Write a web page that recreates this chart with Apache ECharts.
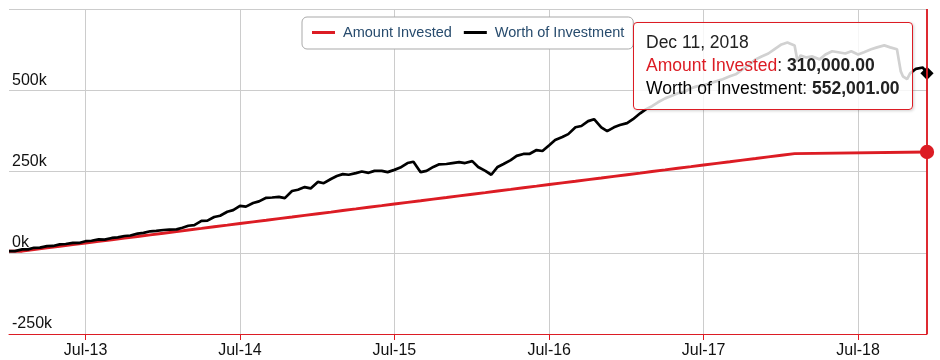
<!DOCTYPE html>
<html><head><meta charset="utf-8">
<script src="https://cdn.jsdelivr.net/npm/echarts@6/dist/echarts.min.js"></script>
<style>html,body{margin:0;padding:0;background:#fff}#c{width:940px;height:360px}</style>
</head><body><div id="c"></div>
<script>
const investedDates = [
'2013-01-01','2013-02-01','2013-03-01','2013-04-01','2013-05-01','2013-06-01','2013-07-01','2013-08-01','2013-09-01','2013-10-01','2013-11-01','2013-12-01',
'2014-01-01','2014-02-01','2014-03-01','2014-04-01','2014-05-01','2014-06-01','2014-07-01','2014-08-01','2014-09-01','2014-10-01','2014-11-01','2014-12-01',
'2015-01-01','2015-02-01','2015-03-01','2015-04-01','2015-05-01','2015-06-01','2015-07-01','2015-08-01','2015-09-01','2015-10-01','2015-11-01','2015-12-01',
'2016-01-01','2016-02-01','2016-03-01','2016-04-01','2016-05-01','2016-06-01','2016-07-01','2016-08-01','2016-09-01','2016-10-01','2016-11-01','2016-12-01',
'2017-01-01','2017-02-01','2017-03-01','2017-04-01','2017-05-01','2017-06-01','2017-07-01','2017-08-01','2017-09-01','2017-10-01','2017-11-01','2017-12-01',
'2018-01-01','2018-02-01','2018-12-11'];
const investedValues = [
5000,10000,15000,20000,25000,30000,35000,40000,45000,50000,55000,60000,
65000,70000,75000,80000,85000,90000,95000,100000,105000,110000,115000,120000,
125000,130000,135000,140000,145000,150000,155000,160000,165000,170000,175000,180000,
185000,190000,195000,200000,205000,210000,215000,220000,225000,230000,235000,240000,
245000,250000,255000,260000,265000,270000,275000,280000,285000,290000,295000,300000,
305000,310000,310000];

const worthDates = [
'2013-01-01','2013-01-15','2013-02-01','2013-02-15','2013-03-01','2013-03-15','2013-04-01','2013-04-15','2013-05-01','2013-05-15','2013-06-01','2013-06-15',
'2013-07-01','2013-07-15','2013-08-01','2013-08-15','2013-09-01','2013-09-15','2013-10-01','2013-10-15','2013-11-01','2013-11-15','2013-12-01','2013-12-15',
'2014-01-01','2014-01-15','2014-02-01','2014-02-15','2014-03-01','2014-03-15','2014-04-01','2014-04-15','2014-05-01','2014-05-15','2014-06-01','2014-06-15',
'2014-07-01','2014-07-15','2014-08-01','2014-08-15','2014-09-01','2014-09-15','2014-10-01','2014-10-15','2014-11-01','2014-11-15','2014-12-01','2014-12-15',
'2015-01-01','2015-01-15','2015-02-01','2015-02-15','2015-03-01','2015-03-15','2015-04-01','2015-04-15','2015-05-01','2015-05-15','2015-06-01','2015-06-15',
'2015-07-01','2015-07-15','2015-08-01','2015-08-15','2015-09-01','2015-09-15','2015-10-01','2015-10-15','2015-11-01','2015-11-15','2015-12-01','2015-12-15',
'2016-01-01','2016-01-15','2016-02-01','2016-02-15','2016-03-01','2016-03-15','2016-04-01','2016-04-15','2016-05-01','2016-05-15','2016-06-01','2016-06-15',
'2016-07-01','2016-07-15','2016-08-01','2016-08-15','2016-09-01','2016-09-15','2016-10-01','2016-10-15','2016-11-01','2016-11-15','2016-12-01','2016-12-15',
'2017-01-01','2017-01-15','2017-02-01','2017-02-15','2017-03-01','2017-03-15','2017-04-01','2017-04-15','2017-05-01','2017-05-15','2017-06-01','2017-06-15',
'2017-07-01','2017-07-15','2017-08-01','2017-08-15','2017-09-01','2017-09-15','2017-10-01','2017-10-15','2017-11-01','2017-11-15','2017-12-01','2017-12-15',
'2018-01-01','2018-01-15','2018-02-01','2018-02-08','2018-02-15','2018-03-01','2018-03-15','2018-04-01','2018-04-15','2018-05-01','2018-05-15','2018-06-01','2018-06-15',
'2018-07-01','2018-07-15','2018-08-01','2018-08-15','2018-09-01','2018-09-15','2018-10-01','2018-10-10','2018-10-15','2018-10-25','2018-11-01','2018-11-15','2018-12-01','2018-12-05','2018-12-11'];
const worthValues = [
5000,5200,10200,10500,15300,15800,20400,20900,25800,26900,30600,30200,
35500,37000,41000,40500,45500,47500,51500,53000,59000,61000,66000,67500,
70000,71000,72000,77000,83000,85000,98000,99000,110000,114000,126000,131000,
144000,142000,153000,158000,169000,170000,172000,168000,190000,194000,202000,198000,
218000,214000,227000,236000,242000,240000,245000,250000,246000,252000,252000,248000,
255000,262000,276000,280000,248000,252000,264000,272000,273000,276000,279000,276000,
282000,264000,252000,240000,264000,273000,285000,298000,304000,304000,316000,313000,
331000,347000,356000,365000,386000,390000,405000,411000,386000,374000,386000,393000,
399000,411000,429000,442000,451000,463000,475000,482000,491000,494000,506000,512000,
515000,521000,528000,534000,543000,549000,564000,577000,595000,604000,613000,626000,
641000,647000,638000,589000,607000,601000,604000,595000,610000,620000,617000,613000,620000,
610000,617000,626000,632000,638000,632000,626000,558000,543000,534000,552000,566000,570000,575000,552001];

const xTickDates = ['2013-07-01','2014-07-01','2015-07-01','2016-07-01','2017-07-01','2018-07-01'];
const xTickLabels = ['Jul-13','Jul-14','Jul-15','Jul-16','Jul-17','Jul-18'];
const hoverDate = '2018-12-11';

const RED = '#dc1c24';
const FONT = '"Liberation Sans", Arial, Helvetica, sans-serif';
const ts = s => { const p = s.split('-'); return Date.UTC(+p[0], +p[1]-1, +p[2]); };
const tickTs = xTickDates.map(ts);
const months = ['Jan','Feb','Mar','Apr','May','Jun','Jul','Aug','Sep','Oct','Nov','Dec'];
function fmt(v){
  const parts = v.toFixed(2).split('.');
  parts[0] = parts[0].replace(/\B(?=(\d{3})+(?!\d))/g, ',');
  return parts.join('.');
}
const lastW = worthDates.length - 1;
const lastI = investedDates.length - 1;

const chart = echarts.init(document.getElementById('c'), null, {renderer: 'canvas'});
chart.setOption({
  animation: false,
  textStyle: {fontFamily: FONT},
  grid: {left: 9, right: 13, top: 9, bottom: 26},
  legend: {
    left: 302, top: 17,
    padding: [8, 9, 9, 10],
    itemGap: 12, itemWidth: 23, itemHeight: 3, icon: 'rect',
    borderColor: '#a9a9a9', borderWidth: 1, borderRadius: 5,
    backgroundColor: '#fff',
    textStyle: {fontSize: 14.5, color: '#274b6d', fontFamily: FONT, padding: [0, 0, 0, 3]},
    data: ['Amount Invested', 'Worth of Investment']
  },
  tooltip: {
    trigger: 'axis',
    triggerOn: 'none',
    alwaysShowContent: true,
    transitionDuration: 0,
    position: [633, 22],
    backgroundColor: 'rgba(255,255,255,0.82)',
    borderColor: RED,
    borderWidth: 1,
    padding: [8, 12, 9, 12],
    extraCssText: 'border-radius:4px;box-shadow:1px 1px 3px rgba(0,0,0,0.18);',
    axisPointer: {type: 'line', animation: false, lineStyle: {color: RED, width: 1.5, type: 'solid'}, label: {show: false}},
    formatter: function(params){
      const d = new Date(params[0].value[0]);
      let s = '<div style="font-family:' + FONT.replace(/"/g, "'") + ';font-size:17.5px;line-height:23px;color:#222;">';
      s += months[d.getUTCMonth()] + ' ' + d.getUTCDate() + ', ' + d.getUTCFullYear() + '<br/>';
      params.forEach(function(p, i){
        const col = p.seriesIndex === 0 ? RED : '#000';
        s += '<span style="color:' + col + '">' + p.seriesName + '</span>: <b>' + fmt(p.value[1]) + '</b>' + (i < params.length - 1 ? '<br/>' : '');
      });
      return s + '</div>';
    }
  },
  xAxis: {
    type: 'value',
    min: ts('2013-01-01'),
    max: ts('2018-12-11'),
    axisLine: {show: true, onZero: false, lineStyle: {color: RED, width: 1}},
    axisTick: {show: true, length: 6, lineStyle: {color: RED}, customValues: tickTs},
    axisLabel: {
      customValues: tickTs, margin: 9, fontSize: 16, color: '#111', fontFamily: FONT,
      formatter: function(v){ const i = tickTs.indexOf(v); return i >= 0 ? xTickLabels[i] : ''; }
    },
    splitLine: {show: true, lineStyle: {color: '#cccccc', width: 1}}
  },
  yAxis: {
    type: 'value',
    min: -250000, max: 750000, interval: 250000,
    axisLine: {show: false}, axisTick: {show: false},
    axisLabel: {
      inside: true, margin: 3, verticalAlign: 'bottom', showMaxLabel: false,
      fontSize: 16, color: '#111', fontFamily: FONT, padding: [0, 0, 2, 0],
      formatter: function(v){ return (v / 1000) + 'k'; }
    },
    splitLine: {show: true, lineStyle: {color: '#cccccc', width: 1}}
  },
  series: [
    {
      name: 'Amount Invested', type: 'line', step: 'end',
      data: investedDates.map((d, i) => [ts(d), investedValues[i]]),
      lineStyle: {color: RED, width: 3}, itemStyle: {color: RED},
      showSymbol: true,
      symbol: function(v, p){ return p.dataIndex === lastI ? 'circle' : 'none'; },
      symbolSize: 13,
      emphasis: {disabled: true},
      markLine: {
        silent: true, symbol: ['none', 'none'], animation: false,
        label: {show: false},
        lineStyle: {color: RED, width: 1.5, type: 'solid'},
        emphasis: {disabled: true},
        data: [{xAxis: ts(hoverDate)}]
      }
    },
    {
      name: 'Worth of Investment', type: 'line',
      data: worthDates.map((d, i) => [ts(d), worthValues[i]]),
      lineStyle: {color: '#000', width: 2.7}, itemStyle: {color: '#000'},
      showSymbol: true,
      symbol: function(v, p){ return p.dataIndex === lastW ? 'diamond' : 'none'; },
      symbolSize: 12,
      emphasis: {disabled: true}
    }
  ]
});
chart.dispatchAction({type: 'showTip', seriesIndex: 1, dataIndex: lastW});
</script>
</body></html>
